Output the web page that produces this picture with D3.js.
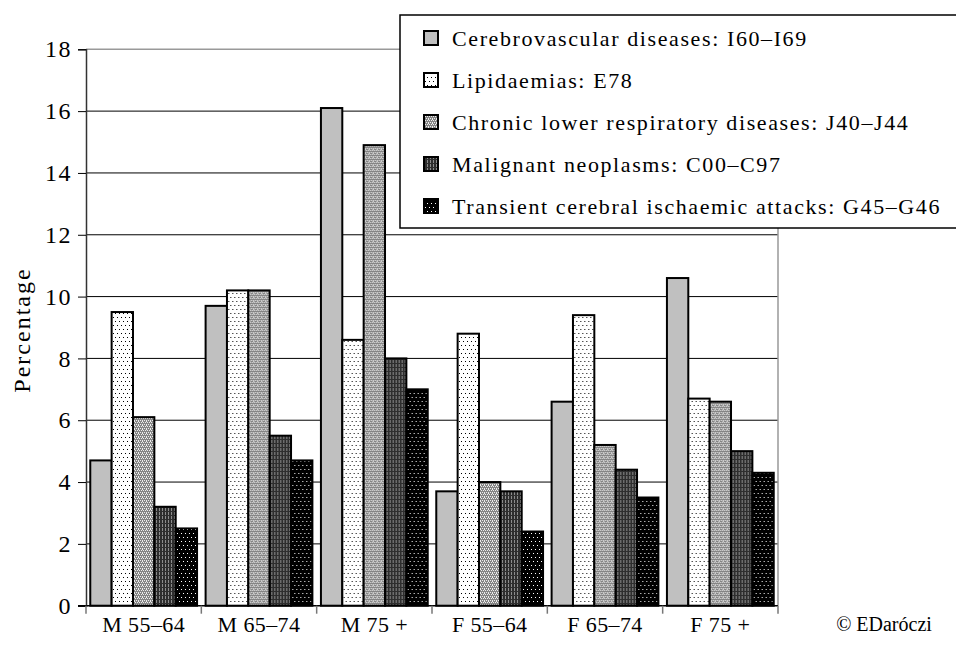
<!DOCTYPE html>
<meta charset="utf-8">
<style>
body { margin: 0; background: #fff; }
svg text { font-family: "Liberation Serif", "Times New Roman", serif !important; fill: #000; }
</style>
<body>
<script src="https://d3js.org/d3.v7.min.js"></script>
<script>
var groups = ["M 55\u201364", "M 65\u201374", "M 75 +", "F 55\u201364", "F 65\u201374", "F 75 +"];
var series = [
  "Cerebrovascular diseases: I60\u2013I69",
  "Lipidaemias: E78",
  "Chronic lower respiratory diseases: J40\u2013J44",
  "Malignant neoplasms: C00\u2013C97",
  "Transient cerebral ischaemic attacks: G45\u2013G46"
];
var cerebro   = [4.7, 9.7, 16.1, 3.7, 6.6, 10.6];
var lipid     = [9.5, 10.2, 8.6, 8.8, 9.4, 6.7];
var chronic   = [6.1, 10.2, 14.9, 4.0, 5.2, 6.6];
var malignant = [3.2, 5.5, 8.0, 3.7, 4.4, 5.0];
var tia       = [2.5, 4.7, 7.0, 2.4, 3.5, 4.3];
var yTicks = [0, 2, 4, 6, 8, 10, 12, 14, 16, 18];

var values = [cerebro, lipid, chronic, malignant, tia];
var fills = ["#c0c0c0", "url(#p-lipid)", "url(#p-chronic)", "url(#p-malig)", "url(#p-tia)"];

var W = 956, H = 651;
var plotLeft = 86, plotRight = 778, plotTop = 49.3, plotBottom = 605.7;

var svg = d3.select("body").append("svg")
    .attr("width", W)
    .attr("height", H);

// fill patterns
var defs = svg.append("defs");
function pattern(id, w, h, bg, dots, dotColor) {
  var p = defs.append("pattern").attr("id", id)
      .attr("patternUnits", "userSpaceOnUse")
      .attr("width", w).attr("height", h);
  p.append("rect").attr("width", w).attr("height", h).attr("fill", bg);
  dots.forEach(function(d) {
    p.append("rect").attr("x", d[0]).attr("y", d[1])
      .attr("width", d[2] || 1).attr("height", d[3] || 1).attr("fill", dotColor);
  });
}
pattern("p-lipid", 4, 8, "#fff", [[1, 1], [3, 5]], "#000");
pattern("p-chronic", 4, 4, "#858585", [[0, 0], [2, 0], [1, 2], [3, 2], [0, 1]], "#ececec");
pattern("p-malig", 3, 4, "#2e2e2e", [[1, 0, 1, 3]], "#8c8c8c");
pattern("p-tia", 4, 8, "#000", [[1, 1], [3, 5]], "#fff");

var x0 = d3.scaleBand().domain(groups).range([plotLeft, plotRight]).padding(0);
var x1 = d3.scaleBand().domain(d3.range(series.length))
    .range([0, x0.bandwidth()]).paddingInner(0).paddingOuter(0.2);
var y = d3.scaleLinear().domain([0, 18]).range([plotBottom, plotTop]);

// gridlines
svg.append("g").selectAll("line")
  .data(yTicks.filter(function(t) { return t > 0 && t < 18; }))
  .enter().append("line")
  .attr("x1", plotLeft).attr("x2", plotRight)
  .attr("y1", function(d) { return y(d); })
  .attr("y2", function(d) { return y(d); })
  .attr("stroke", "#000").attr("stroke-width", 1);

// plot area border (top/right), grey
svg.append("path")
  .attr("d", "M" + plotLeft + "," + y(18) + "H" + plotRight + "V" + plotBottom)
  .attr("fill", "none").attr("stroke", "#999").attr("stroke-width", 1.5);

// bars
var gGroups = svg.append("g").selectAll("g")
  .data(groups)
  .enter().append("g")
  .attr("transform", function(d) { return "translate(" + x0(d) + ",0)"; });

gGroups.selectAll("rect")
  .data(function(d, i) { return values.map(function(v, s) { return {s: s, v: v[i]}; }); })
  .enter().append("rect")
  .attr("x", function(d) { return x1(d.s); })
  .attr("width", x1.bandwidth())
  .attr("y", function(d) { return y(d.v); })
  .attr("height", function(d) { return y(0) - y(d.v); })
  .attr("fill", function(d) { return fills[d.s]; })
  .attr("stroke", "#000")
  .attr("stroke-width", 2);

// y axis
var yAxis = svg.append("g")
  .attr("transform", "translate(" + plotLeft + ",0)")
  .call(d3.axisLeft(y).tickValues(yTicks).tickSize(8).tickPadding(6));
yAxis.select(".domain").attr("stroke", "#333").attr("stroke-width", 1.5);
yAxis.selectAll(".tick line").attr("stroke", "#000").attr("stroke-width", 1);
yAxis.selectAll("text")
  .style("font-size", "24px")
  .style("letter-spacing", "1.5px");

// x axis: line, boundary ticks, labels
svg.append("line")
  .attr("x1", plotLeft - 8).attr("x2", plotRight)
  .attr("y1", plotBottom).attr("y2", plotBottom)
  .attr("stroke", "#000").attr("stroke-width", 1.5);

var bounds = groups.map(function(g) { return x0(g); }).concat([plotRight]);
svg.append("g").selectAll("line")
  .data(bounds)
  .enter().append("line")
  .attr("x1", function(d) { return d; }).attr("x2", function(d) { return d; })
  .attr("y1", plotBottom).attr("y2", plotBottom + 8)
  .attr("stroke", "#777").attr("stroke-width", 1.5);

svg.append("g").selectAll("text")
  .data(groups)
  .enter().append("text")
  .attr("x", function(d) { return x0(d) + x0.bandwidth() / 2; })
  .attr("y", 632)
  .attr("text-anchor", "middle")
  .style("font-size", "22px")
  .style("letter-spacing", "0.4px")
  .text(function(d) { return d; });

// y title
svg.append("text")
  .attr("transform", "translate(30,330) rotate(-90)")
  .attr("text-anchor", "middle")
  .style("font-size", "24px")
  .style("letter-spacing", "2px")
  .text("Percentage");

// copyright
svg.append("text")
  .attr("x", 884)
  .attr("y", 631)
  .attr("text-anchor", "middle")
  .style("font-size", "20px")
  .text("\u00a9 EDar\u00f3czi");

// legend
var legend = svg.append("g");
legend.append("rect")
  .attr("x", 400).attr("y", 15)
  .attr("width", 570).attr("height", 213)
  .attr("fill", "#fff").attr("stroke", "#000").attr("stroke-width", 1.5);

var rows = legend.selectAll(".row")
  .data(series)
  .enter().append("g")
  .attr("class", "row")
  .attr("transform", function(d, i) { return "translate(0," + (38 + i * 42) + ")"; });

rows.append("rect")
  .attr("x", 424).attr("y", -7)
  .attr("width", 14).attr("height", 14)
  .attr("fill", function(d, i) { return fills[i]; })
  .attr("stroke", "#000").attr("stroke-width", 2);

rows.append("text")
  .attr("x", 452).attr("y", 7.5)
  .style("font-size", "22px")
  .style("letter-spacing", "1.6px")
  .text(function(d) { return d; });
</script>
</body>
